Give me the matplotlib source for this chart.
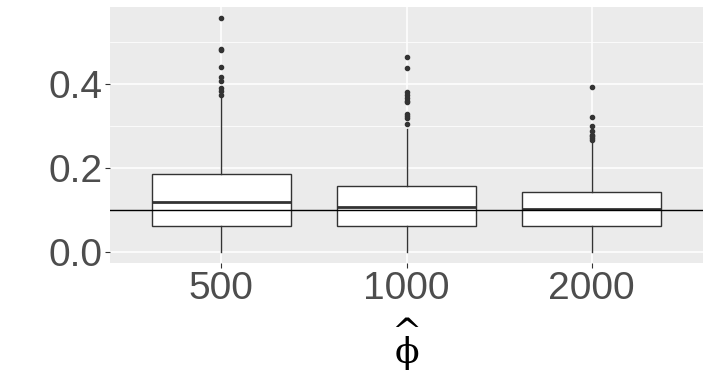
import matplotlib
matplotlib.use("Agg")
import matplotlib.pyplot as plt
from matplotlib.ticker import MultipleLocator

categories = ["500", "1000", "2000"]
q1 = [0.062, 0.062, 0.062]
medians = [0.119, 0.1075, 0.102]
q3 = [0.187, 0.157, 0.142]
whis_lo = [0.001, 0.001, 0.001]
whis_hi = [0.369, 0.2925, 0.262]
outliers = [
    [0.557, 0.485, 0.482, 0.442, 0.418, 0.407, 0.391, 0.385, 0.375],
    [0.464, 0.438, 0.382, 0.3755, 0.368, 0.361, 0.3566, 0.330, 0.324, 0.319, 0.306],
    [0.394, 0.322, 0.301, 0.288, 0.278, 0.276, 0.271, 0.266],
]
reference_value = 0.1
y_ticks = [0.0, 0.2, 0.4]
y_tick_labels = ["0.0", "0.2", "0.4"]

plt.rcParams["font.family"] = ["Liberation Sans", "DejaVu Sans"]

fig = plt.figure(figsize=(7.11, 3.84), dpi=100)
ax = fig.add_axes([110 / 711, 1 - 263.3 / 384, (703 - 110) / 711, (263.3 - 6.7) / 384])
ax.set_facecolor("#EBEBEB")

stats = []
for i, c in enumerate(categories):
    stats.append(dict(label=c, q1=q1[i], med=medians[i], q3=q3[i],
                      whislo=whis_lo[i], whishi=whis_hi[i], fliers=outliers[i]))

edge = "#333333"
positions = list(range(len(categories)))
ax.bxp(stats, positions=positions, widths=0.75, showcaps=False, patch_artist=True,
       boxprops=dict(facecolor="white", edgecolor=edge, linewidth=1.0),
       medianprops=dict(color=edge, linewidth=2.0),
       whiskerprops=dict(color=edge, linewidth=1.0),
       flierprops=dict(marker="o", markersize=3.0, markerfacecolor=edge,
                       markeredgecolor=edge, linestyle="none"),
       zorder=3)

ax.axhline(reference_value, color="black", linewidth=1.0, zorder=4)

allvals = [v for lst in outliers for v in lst] + whis_lo + whis_hi
lo, hi = min(allvals), max(allvals)
pad = (hi - lo) * 0.05
ax.set_ylim(lo - pad, hi + pad)
ax.set_xlim(-0.6, len(categories) - 1 + 0.6)

ax.set_yticks(y_ticks)
ax.set_yticklabels(y_tick_labels)
ax.yaxis.set_minor_locator(MultipleLocator(0.1))
ax.set_xticks(positions)
ax.set_xticklabels(categories)

ax.grid(which="major", color="white", linewidth=1.1, zorder=0)
ax.grid(which="minor", axis="y", color="white", linewidth=0.55, zorder=0)
ax.set_axisbelow(True)

for s in ax.spines.values():
    s.set_visible(False)

ax.tick_params(axis="both", which="major", length=3.5, width=0.8, color=edge,
               labelsize=28, labelcolor="#4D4D4D", pad=2)
ax.tick_params(axis="y", which="minor", length=0)

# x-axis title: phi-hat, a caret above an upright phi in one text
cx = 406.5 / 711
fig.text(cx, 1 - 343 / 384, "^\n\u03d5", ha="center", va="center", fontsize=26,
         linespacing=0.5, color="black", family=["DejaVu Serif"])

fig.savefig("out.png", dpi=100)
